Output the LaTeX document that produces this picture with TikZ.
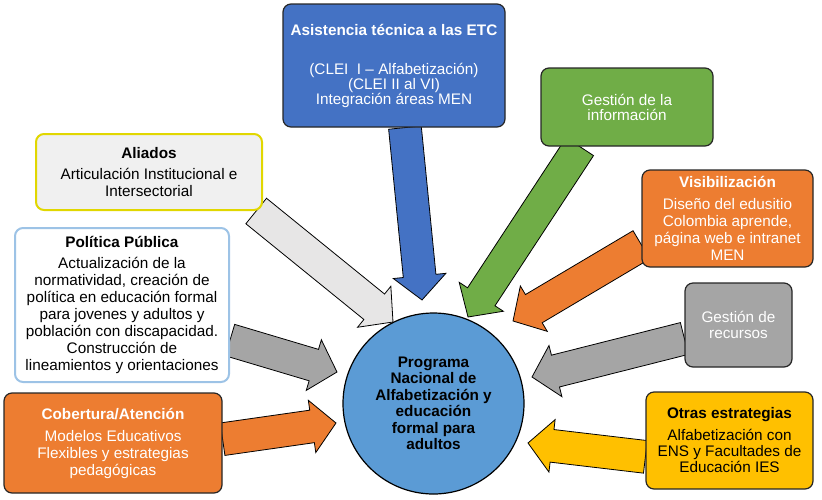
\documentclass[tikz,border=0pt]{standalone}
\usepackage{fontspec}
\setmainfont{Liberation Sans}
\usetikzlibrary{shapes.arrows,calc,backgrounds}

\definecolor{blueA}{HTML}{4472C4}
\definecolor{greenA}{HTML}{70AD47}
\definecolor{orangeA}{HTML}{ED7D31}
\definecolor{grayA}{HTML}{A5A5A5}
\definecolor{goldA}{HTML}{FFC000}
\definecolor{circA}{HTML}{5B9BD5}
\definecolor{lightA}{HTML}{E7E6E6}
\definecolor{lineA}{HTML}{9DC3E6}

\begin{document}
\begin{tikzpicture}[x=1pt,y=-1pt,font=\fontsize{15.3}{17}\selectfont,
  box/.style={draw=black!85,line width=1.2pt,rounded corners=8pt,align=center,inner sep=2pt},
  feed/.style={single arrow,draw=black,line width=0.8pt,minimum width=52pt,
    single arrow head extend=10pt,single arrow tip angle=95,inner xsep=0pt,inner ysep=16pt,
    outer sep=0pt,anchor=tail}]
  \useasboundingbox (0,0) rectangle (822,499);

  % center
  \node[circle,draw=black,line width=1.2pt,fill=circA,minimum size=181,align=center,
    font=\fontsize{15.3}{16.5}\selectfont\bfseries] (prog) at (433.5,403.5)
    {Programa\\Nacional de\\Alfabetización y\\educación\\formal para\\adultos};

  % boxes round it
  \node[box,fill=blueA,text=white,minimum width=222,minimum height=123] (asist) at (394,65.5)
    {\textbf{Asistencia técnica a las ETC}\\[22pt](CLEI\ \ I – Alfabetización)\\[-2pt](CLEI II al VI)\\[-2pt]Integración áreas MEN};
  \node[box,fill=greenA,text=white,minimum width=172,minimum height=78] (info) at (627,107)
    {Gestión de la\\[-2pt]información};
  \node[box,fill=orangeA,text=white,minimum width=171,minimum height=97] (vis) at (727.5,218.5)
    {\textbf{Visibilización}\\[5pt]Diseño del edusitio\\Colombia aprende,\\página web e intranet\\MEN};
  \node[box,fill=grayA,text=white,minimum width=107,minimum height=84] (rec) at (738.5,325)
    {Gestión de\\[-1pt]recursos};
  \node[box,fill=goldA,minimum width=167,minimum height=97] (otras) at (729.5,440.5)
    {\textbf{Otras estrategias}\\[5pt]Alfabetización con\\[-1pt]ENS y Facultades de\\[-1pt]Educación IES};
  \node[box,fill=orangeA,text=white,minimum width=218,minimum height=100] (cob) at (113,443)
    {\textbf{Cobertura/Atención}\\[5pt]Modelos Educativos\\Flexibles y estrategias\\pedagógicas};
  \node[box,draw=lineA,line width=2pt,fill=white,minimum width=214,minimum height=154] (pol) at (122,305)
    {\textbf{Política Pública}\\[4pt]Actualización de la\\normatividad, creación de\\política en educación formal\\para jovenes y adultos y\\población con discapacidad.\\Construcción de\\lineamientos y orientaciones};
  \node[box,draw={rgb,255:red,225;green,215;blue,0},line width=2pt,fill=black!6,minimum width=226,minimum height=76] (aliados) at (149,172)
    {\textbf{Aliados}\\[4pt]Articulación Institucional e\\Intersectorial};

  % arrow tips
  \coordinate (tipasist) at (422,300);
  \coordinate (tipaliados) at (393,322);
  \coordinate (tipinfo) at (468,317);
  \coordinate (tipvis) at (513,321);
  \coordinate (tiprec) at (532,377);
  \coordinate (tipotras) at (528,443);
  \coordinate (tipcob) at (336,423);
  \coordinate (tippol) at (337,372);

  \begin{pgfonlayer}{background}
    \foreach \src/\dst/\col in {asist.-80/tipasist/blueA, aliados.-20/tipaliados/lightA,
        info.-140/tipinfo/greenA, vis.-163/tipvis/orangeA, rec.-166/tiprec/grayA,
        otras.-169/tipotras/goldA, cob.2/tipcob/orangeA, pol.-18/tippol/grayA}
      \path let \p1=(\src), \p2=(\dst), \n1={atan2(\y2-\y1,\x2-\x1)},
        \n2={veclen(\x2-\x1,\y2-\y1)} in
        (\p1) node[feed,fill=\col,minimum height=\n2,rotate=\n1] {};
  \end{pgfonlayer}
\end{tikzpicture}
\end{document}
